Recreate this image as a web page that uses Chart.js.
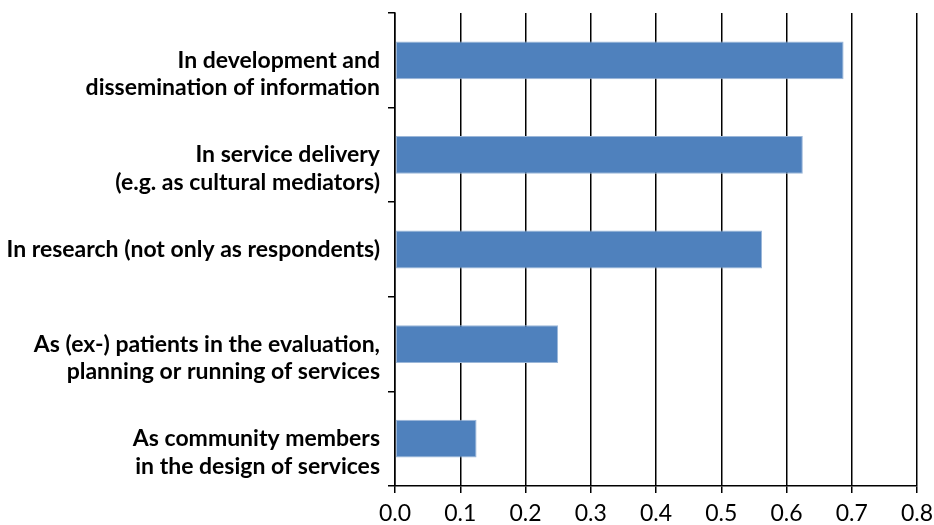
<!DOCTYPE html>
<html>
<head>
<meta charset="utf-8">
<script src="https://cdn.jsdelivr.net/npm/chart.js@4"></script>
<style>
html,body{margin:0;padding:0;background:#fff;}
#wrap{width:934px;height:525px;position:relative;}
</style>
</head>
<body>
<div id="wrap"><canvas id="c" width="934" height="525"></canvas></div>
<script>
const categories = [
  ["In development and", "dissemination of information"],
  ["In service delivery", "(e.g. as cultural mediators)"],
  "In research (not only as respondents)",
  ["As (ex-) patients in the evaluation,", "planning or running of services"],
  ["As community members", "in the design of services"]
];
const values = [0.6875, 0.625, 0.5625, 0.25, 0.125];
const xTicks = [0, 0.1, 0.2, 0.3, 0.4, 0.5, 0.6, 0.7, 0.8];

// Two-line labels: first line sits on the category centre (as in the reference),
// achieved by prefixing an empty line so the block stays centred.
const tickLabels = categories.map(c => Array.isArray(c) ? [""].concat(c) : c);

new Chart(document.getElementById('c'), {
  type: 'bar',
  data: {
    labels: tickLabels,
    datasets: [{
      data: values,
      backgroundColor: '#4F81BD',
      borderColor: '#9BB7D9',
      borderWidth: 1,
      borderSkipped: false,
      barPercentage: 0.4,
      categoryPercentage: 1.0
    }]
  },
  options: {
    indexAxis: 'y',
    responsive: false,
    animation: false,
    layout: { padding: { left: 0, right: 17, top: 13, bottom: 0 } },
    plugins: { legend: { display: false }, tooltip: { enabled: false } },
    scales: {
      x: {
        min: 0, max: 0.8,
        afterBuildTicks: (s) => { s.ticks = xTicks.map(v => ({ value: v })); },
        afterFit: (s) => { s.height = 39; s.paddingLeft = 0; s.paddingRight = 0; },
        grid: { color: '#000', lineWidth: 1.5, drawTicks: true, tickLength: 7 },
        border: { color: '#000', width: 1.5 },
        ticks: {
          color: '#000',
          font: { family: 'Lato', size: 23 },
          padding: 7,
          callback: (v) => Number(v).toFixed(1)
        }
      },
      y: {
        afterFit: (s) => { s.width = 395; s.paddingTop = 0; s.paddingBottom = 0; },
        grid: { drawOnChartArea: false, drawTicks: true, tickLength: 7, color: '#000', lineWidth: 1.5, offset: true },
        border: { color: '#000', width: 1.5 },
        ticks: {
          color: '#000',
          font: { family: 'Lato', size: 23, weight: 'bold', lineHeight: 1.2 },
          padding: 8
        }
      }
    }
  }
});
</script>
</body>
</html>
